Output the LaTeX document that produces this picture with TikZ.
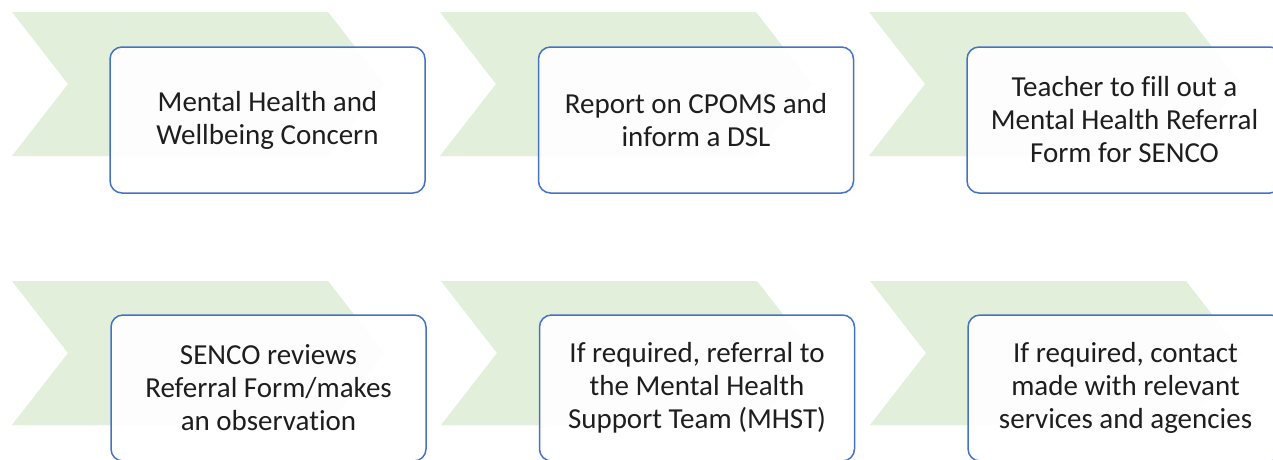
\documentclass[tikz,border=0pt]{standalone}
\usepackage{fontspec}
\setmainfont[Ligatures={NoCommon}]{Carlito}
\definecolor{chevgreen}{HTML}{E2EFDA}
\definecolor{boxblue}{HTML}{4472C4}
\definecolor{txt}{HTML}{1E1E1E}
\newcommand\mychev[2]{% left x, top y
  \fill[chevgreen] (#1,#2) -- ++(316,0) -- ++(56,72) -- ++(-56,72) -- ++(-316,0) -- ++(56,-72) -- cycle;}
\begin{document}
\begin{tikzpicture}[x=1pt,y=-1pt,
  stepbox/.style={draw=boxblue, line width=1.5pt, rounded corners=12pt,
    fill=white, fill opacity=0.92, text opacity=1, text=txt,
    minimum width=315pt, minimum height=146pt, align=center,
    font=\fontsize{29}{33}\selectfont, inner sep=0pt}]
\useasboundingbox (0,0) rectangle (1273,459);
\clip (0,0) rectangle (1273,459);
\fill[white] (0,0) rectangle (1273,459);
% chevrons
\mychev{12}{12}
\mychev{440}{12}
\mychev{869}{12}
\mychev{12}{281}
\mychev{441}{281}
\mychev{870}{281}
% boxes
\node[stepbox] (b1) at (267.5,120) {Mental Health and\\Wellbeing Concern};
\node[stepbox] (b2) at (696,120) {Report on CPOMS and\\inform a DSL};
\node[stepbox] (b3) at (1124.5,120) {Teacher to fill out a\\Mental Health Referral\\Form for SENCO};
\node[stepbox] (b4) at (268.5,388) {SENCO reviews\\Referral Form/makes\\an observation};
\node[stepbox] (b5) at (697,388) {If required, referral to\\the Mental Health\\Support Team (MHST)};
\node[stepbox] (b6) at (1125.5,388) {If required, contact\\made with relevant\\services and agencies};
\end{tikzpicture}
\end{document}
